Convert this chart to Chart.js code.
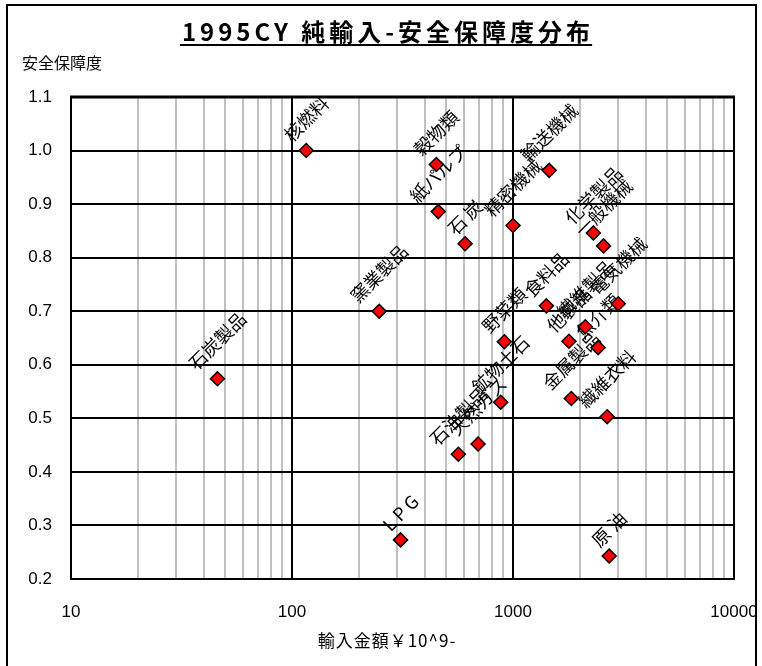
<!DOCTYPE html>
<html>
<head>
<meta charset="utf-8">
<script src="https://cdn.jsdelivr.net/npm/chart.js@4/dist/chart.umd.min.js"></script>
<style>
  body { margin: 0; background: #fff; }
</style>
</head>
<body>
<canvas id="chart" width="762" height="666"></canvas>
<script>
// items, import value (¥10^9) and security degree
const names = ['石炭製品', '窯業製品', '核燃料', '穀物類', '紙パルプ', '石 炭', '精密機械', '輸送機械',
  '化学製品', '一般機械', '食料品', '電気機械', '繊維製品', '他製品', '魚介類', '野菜類',
  '金属製品', '繊維衣料', '鉱物土石', '天然ガス', '石油製品', 'L P G', '原 油'];
const imports = [46, 248, 116, 450, 459, 607, 1000, 1458,
  2310, 2570, 1416, 2994, 2124, 1791, 2427, 914,
  1836, 2667, 880, 695, 566, 310, 2724];
const safety = [0.574, 0.700, 1.000, 0.974, 0.886, 0.826, 0.860, 0.963,
  0.846, 0.822, 0.710, 0.714, 0.671, 0.644, 0.632, 0.643,
  0.537, 0.503, 0.530, 0.452, 0.433, 0.273, 0.243];

const xTicks = [10, 20, 30, 40, 50, 60, 70, 80, 90, 100, 200, 300, 400, 500, 600, 700, 800, 900,
  1000, 2000, 3000, 4000, 5000, 6000, 7000, 8000, 9000, 10000];
const yTicks = [0.2, 0.3, 0.4, 0.5, 0.6, 0.7, 0.8, 0.9, 1.0, 1.1];

const cjk = '"Noto Sans CJK JP", sans-serif';

function isDecade(v) {
  const l = Math.log10(v);
  return Math.abs(l - Math.round(l)) < 1e-9;
}

// rotated data labels, drawn under the markers
const labelPlugin = {
  id: 'pointLabels',
  beforeDatasetsDraw(chart) {
    const ctx = chart.ctx;
    const meta = chart.getDatasetMeta(0);
    ctx.save();
    ctx.font = '18px ' + cjk;
    ctx.fillStyle = '#000';
    ctx.textAlign = 'center';
    ctx.textBaseline = 'middle';
    meta.data.forEach((pt, i) => {
      const w = ctx.measureText(names[i]).width;
      const box = (w + 18) * Math.SQRT1_2;
      ctx.save();
      ctx.translate(pt.x, pt.y - box / 2 - 6);
      ctx.rotate(-Math.PI / 4);
      ctx.fillText(names[i], 0, 0);
      ctx.restore();
    });
    ctx.restore();
  }
};

// title, axis titles, frame
const framePlugin = {
  id: 'frame',
  afterDraw(chart) {
    const ctx = chart.ctx;
    const area = chart.chartArea;
    ctx.save();
    ctx.fillStyle = '#000';
    ctx.strokeStyle = '#000';

    // thick top edge of the plot
    ctx.lineWidth = 3;
    ctx.beginPath();
    ctx.moveTo(area.left - 1, area.top);
    ctx.lineTo(area.right + 1, area.top);
    ctx.stroke();

    // title with underline
    ctx.font = 'bold 24px "Liberation Sans Narrow", ' + cjk;
    ctx.letterSpacing = '4px';
    ctx.textAlign = 'center';
    ctx.textBaseline = 'middle';
    const title = '1995CY 純輸入-安全保障度分布';
    const tw = ctx.measureText(title).width;
    ctx.fillText(title, 386 + 2, 32);
    ctx.lineWidth = 2;
    ctx.beginPath();
    ctx.moveTo(386 - tw / 2, 45);
    ctx.lineTo(386 + tw / 2, 45);
    ctx.stroke();

    // y title
    ctx.letterSpacing = '0px';
    ctx.font = '16px ' + cjk;
    ctx.textAlign = 'left';
    ctx.fillText('安全保障度', 22, 63);

    // x title
    ctx.font = '17px ' + cjk;
    ctx.letterSpacing = '1px';
    ctx.textAlign = 'center';
    ctx.fillText('輸入金額￥10^9-', 387, 641);

    // outer frame
    ctx.lineWidth = 2;
    ctx.strokeRect(7, 5, 749, 680);
    ctx.restore();
  }
};

new Chart(document.getElementById('chart'), {
  type: 'scatter',
  data: {
    datasets: [{
      data: imports.map((v, i) => ({ x: v, y: safety[i] })),
      pointStyle: 'rectRot',
      pointRadius: 7,
      pointHoverRadius: 7,
      backgroundColor: '#ff0000',
      borderColor: '#000',
      borderWidth: 1.5
    }]
  },
  options: {
    responsive: false,
    animation: false,
    layout: { padding: { top: 97, right: 28, left: 0, bottom: 0 } },
    plugins: { legend: { display: false }, tooltip: { enabled: false } },
    scales: {
      x: {
        type: 'logarithmic',
        min: 10,
        max: 10000,
        afterBuildTicks: s => { s.ticks = xTicks.map(v => ({ value: v })); },
        afterFit: s => {
          s.height = 87;
          s.paddingLeft = 0;
          s.paddingRight = 0;
        },
        ticks: {
          autoSkip: false,
          maxRotation: 0,
          padding: 23,
          color: '#000',
          font: { family: '"Liberation Sans", Arial', size: 17 },
          callback: v => isDecade(v) ? String(v) : ''
        },
        grid: {
          drawTicks: false,
          color: c => (c.tick && isDecade(c.tick.value)) ? '#000' : '#c0c0c0',
          lineWidth: 2
        },
        border: { color: '#000', width: 2 }
      },
      y: {
        min: 0.2,
        max: 1.1,
        afterBuildTicks: s => { s.ticks = yTicks.map(v => ({ value: v })); },
        afterFit: s => { s.width = 71; },
        ticks: {
          padding: 19,
          color: '#000',
          font: { family: '"Liberation Sans", Arial', size: 17 },
          callback: v => v.toFixed(1)
        },
        grid: { drawTicks: false, color: '#000', lineWidth: 2 },
        border: { color: '#000', width: 2 }
      }
    }
  },
  plugins: [labelPlugin, framePlugin]
});
</script>
</body>
</html>
